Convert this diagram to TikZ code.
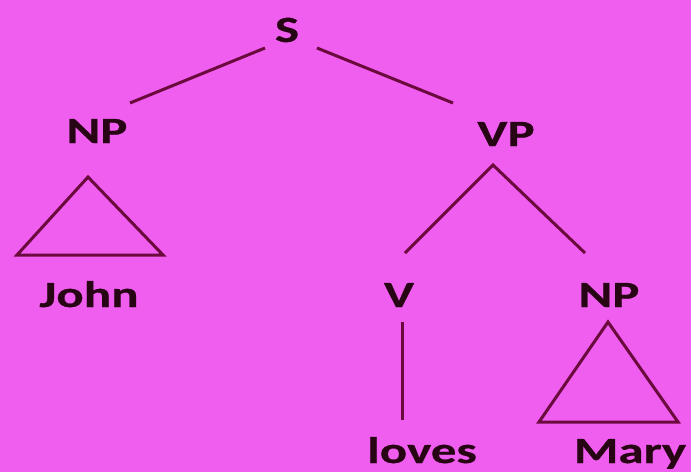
\documentclass[tikz,border=0pt]{standalone}
\usepackage{fontspec}
\newfontfamily\treefont[FakeStretch=1.38,BoldFeatures={FakeBold=0.6}]{Carlito}
\definecolor{bgpink}{RGB}{240,94,240}
\definecolor{branchred}{RGB}{107,10,60}
\definecolor{labelink}{RGB}{40,5,20}

\begin{document}
\begin{tikzpicture}[x=1pt,y=-1pt,
  cat/.style={anchor=base,text=labelink,inner sep=0pt,font=\treefont\bfseries\fontsize{37}{40}\selectfont},
  branch/.style={draw=branchred,line width=3pt}]
\fill[bgpink] (0,0) rectangle (691,472);
\useasboundingbox (0,0) rectangle (691,472);
% categories
\node[cat] (S)   at (287,42)  {S};
\node[cat] (NP1) at (97,143)  {NP};
\node[cat] (VP)  at (506,146) {VP};
\node[cat] (V)   at (399,307) {V};
\node[cat] (NP2) at (609,307) {NP};
% words
\node[cat] (john)  at (89,307)  {John};
\node[cat] (loves) at (422,463) {loves};
\node[cat] (mary)  at (630,463) {Mary};
% branch ends
\coordinate (S-l)   at (265,48);
\coordinate (S-r)   at (317,48);
\coordinate (NP1-t) at (130,103);
\coordinate (VP-t)  at (453,103);
\coordinate (VP-b)  at (493,165);
\coordinate (V-t)   at (405,253);
\coordinate (NP2-t) at (585,253);
\coordinate (V-b)   at (402,322);
\coordinate (loves-t) at (402,420);
\coordinate (tri1-top) at (88,177);
\coordinate (tri1-l)   at (17,255);
\coordinate (tri1-r)   at (163,255);
\coordinate (tri2-top) at (608,322);
\coordinate (tri2-l)   at (539,422);
\coordinate (tri2-r)   at (678,422);
\draw[branch] (S-l) -- (NP1-t);
\draw[branch] (S-r) -- (VP-t);
\draw[branch] (V-t) -- (VP-b) -- (NP2-t);
\draw[branch] (V-b) -- (loves-t);
\draw[branch] (tri1-top) -- (tri1-l) -- (tri1-r) -- cycle;
\draw[branch] (tri2-top) -- (tri2-l) -- (tri2-r) -- cycle;
\end{tikzpicture}
\end{document}
